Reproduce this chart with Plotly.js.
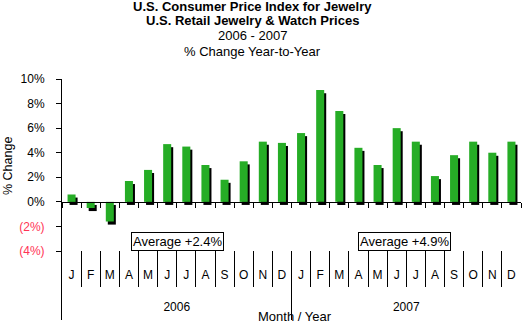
<!DOCTYPE html>
<html>
<head>
<meta charset="utf-8">
<script src="https://cdn.plot.ly/plotly-3.0.1.min.js"></script>
<style>html,body{margin:0;padding:0;background:#fff;}#chart{width:522px;height:324px;}</style>
</head>
<body>
<div id="chart"></div>
<script>
// ---- data ----
const months = ['Jan','Feb','Mar','Apr','May','Jun','Jul','Aug','Sep','Oct','Nov','Dec'];
const monthLabels = ['J','F','M','A','M','J','J','A','S','O','N','D'];
const years = ['2006','2007'];
const change2006 = [0.6,-0.5,-1.6,1.7,2.6,4.7,4.5,3.0,1.8,3.3,4.9,4.8];
const change2007 = [5.6,9.1,7.4,4.4,3.0,6.0,4.9,2.1,3.8,4.9,4.0,4.9];
const averages = [2.4, 4.9];
const yTickVals = [-4,-2,0,2,4,6,8,10];
const yTickText = ['(4%)','(2%)','0%','2%','4%','6%','8%','10%'];

// ---- derived ----
const categories = years.flatMap(y => months.map(m => m + ' ' + y));
const catLabels = years.flatMap(() => monthLabels);
const values = change2006.concat(change2007);
const negColor = '#ff3355';
const yText = yTickText.map((t, i) => yTickVals[i] < 0 ? '<span style="color:' + negColor + '">' + t + '</span>' : t);

// pixel helpers (layout only)
const W = 522, H = 324, ML = 62, MR = 1, MT = 79, MB = 4;
const PW = W - ML - MR, PH = H - MT - MB;
const X = px => (px - ML) / PW;
const Y = py => (H - MB - py) / PH;
const mainBottom = Y(251);
const zeroPos = mainBottom + (0 - (-4)) / 14 * (1 - mainBottom);

const FONT = 'Liberation Sans, Arial, sans-serif';
const green = '#26ad26';
const barW = 0.42;

const traces = [
  { type: 'bar', x: categories, y: values, base: -0.25, width: barW, offset: -barW/2 + 0.105,
    marker: { color: '#000', line: { width: 0 } }, hoverinfo: 'skip', showlegend: false, xaxis: 'x', yaxis: 'y' },
  { type: 'bar', x: categories, y: values, width: barW, offset: -barW/2,
    marker: { color: green, line: { width: 0 } }, hoverinfo: 'skip', showlegend: false, xaxis: 'x', yaxis: 'y' },
  { type: 'scatter', mode: 'markers', x: categories, y: categories.map(() => 5), marker: { opacity: 0 },
    hoverinfo: 'skip', showlegend: false, xaxis: 'x3', yaxis: 'y3' },
  { type: 'scatter', mode: 'markers', x: years, y: years.map(() => 5), marker: { opacity: 0 },
    hoverinfo: 'skip', showlegend: false, xaxis: 'x4', yaxis: 'y4' },
  { type: 'scatter', mode: 'markers', x: years, y: years.map(() => 5), marker: { opacity: 0 },
    hoverinfo: 'skip', showlegend: false, xaxis: 'x4', yaxis: 'y5' }
];

const layout = {
  width: W, height: H,
  margin: { l: ML, r: MR, t: MT, b: MB, pad: 0 },
  paper_bgcolor: '#fff', plot_bgcolor: 'rgba(0,0,0,0)',
  font: { family: FONT, size: 12, color: '#000' },
  barmode: 'overlay',
  showlegend: false,
  xaxis: {
    type: 'category', categoryorder: 'array', categoryarray: categories,
    range: [-0.5, categories.length - 0.5], fixedrange: true,
    anchor: 'free', position: zeroPos,
    showline: true, linecolor: '#000', linewidth: 1,
    ticks: 'outside', ticklen: 5, tickcolor: '#000', tickwidth: 1, tickson: 'boundaries',
    showticklabels: false, showgrid: false, zeroline: false
  },
  yaxis: {
    domain: [mainBottom, 1], range: [-4, 10], fixedrange: true, anchor: 'x',
    tickmode: 'array', tickvals: yTickVals, ticktext: yText,
    showline: true, linecolor: '#000', linewidth: 1,
    ticks: 'outside', ticklen: 5, tickcolor: '#000', tickwidth: 1,
    ticklabelstandoff: 9,
    showgrid: false, zeroline: false, tickfont: { size: 12, family: FONT, color: '#000' }
  },
  xaxis3: {
    type: 'category', categoryorder: 'array', categoryarray: categories,
    range: [-0.5, categories.length - 0.5], fixedrange: true, anchor: 'y3',
    tickmode: 'array', tickvals: categories, ticktext: catLabels,
    tickson: 'boundaries', ticks: '', showgrid: true, gridcolor: '#000', gridwidth: 1,
    ticklabelposition: 'inside', ticklabelstandoff: 3,
    showline: false, zeroline: false, tickfont: { size: 12, family: FONT, color: '#000' }
  },
  yaxis3: { domain: [Y(287), Y(251)], range: [0, 1], visible: false, fixedrange: true, anchor: 'x3' },
  xaxis4: {
    type: 'category', categoryorder: 'array', categoryarray: years,
    range: [-0.5, years.length - 0.5], fixedrange: true, anchor: 'y4',
    tickson: 'boundaries', ticks: '', showgrid: true, gridcolor: '#000', gridwidth: 1,
    ticklabelposition: 'inside', ticklabelstandoff: -6,
    showline: false, zeroline: false, tickfont: { size: 12, family: FONT, color: '#000' }
  },
  yaxis4: { domain: [Y(310), Y(251)], range: [0, 1], visible: false, fixedrange: true, anchor: 'x4' },
  yaxis5: { domain: [0, Y(251)], range: [0, 1], fixedrange: true, anchor: 'x4',
    showline: true, linecolor: '#000', linewidth: 1, showticklabels: false, ticks: '',
    showgrid: false, zeroline: false },
  annotations: [
    { text: '<b>U.S. Consumer Price Index for Jewelry</b>', x: X(252), y: Y(7) },
    { text: '<b>U.S. Retail Jewelry &amp; Watch Prices</b>', x: X(252), y: Y(21) },
    { text: years.join(' - '), x: X(252), y: Y(35.5) },
    { text: '% Change Year-to-Year', x: X(252), y: Y(52) },
    { text: '% Change', x: X(8), y: Y(166), textangle: -90, font: { size: 12.5, family: FONT, color: '#000' } },
    { text: 'Month / Year', x: X(295), y: Y(316) },
    { text: 'Average +' + averages[0].toFixed(1) + '%', x: X(177), y: Y(241),
      bordercolor: '#000', borderwidth: 1, borderpad: 1, bgcolor: '#fff' },
    { text: 'Average +' + averages[1].toFixed(1) + '%', x: X(404), y: Y(241.5),
      bordercolor: '#000', borderwidth: 1, borderpad: 1, bgcolor: '#fff' }
  ].map(a => Object.assign({ xref: 'paper', yref: 'paper', xanchor: 'center', yanchor: 'middle',
    showarrow: false, font: { size: 13, family: FONT, color: '#000' } }, a))
};

Plotly.newPlot('chart', traces, layout, { displayModeBar: false, staticPlot: true });
</script>
</body>
</html>
